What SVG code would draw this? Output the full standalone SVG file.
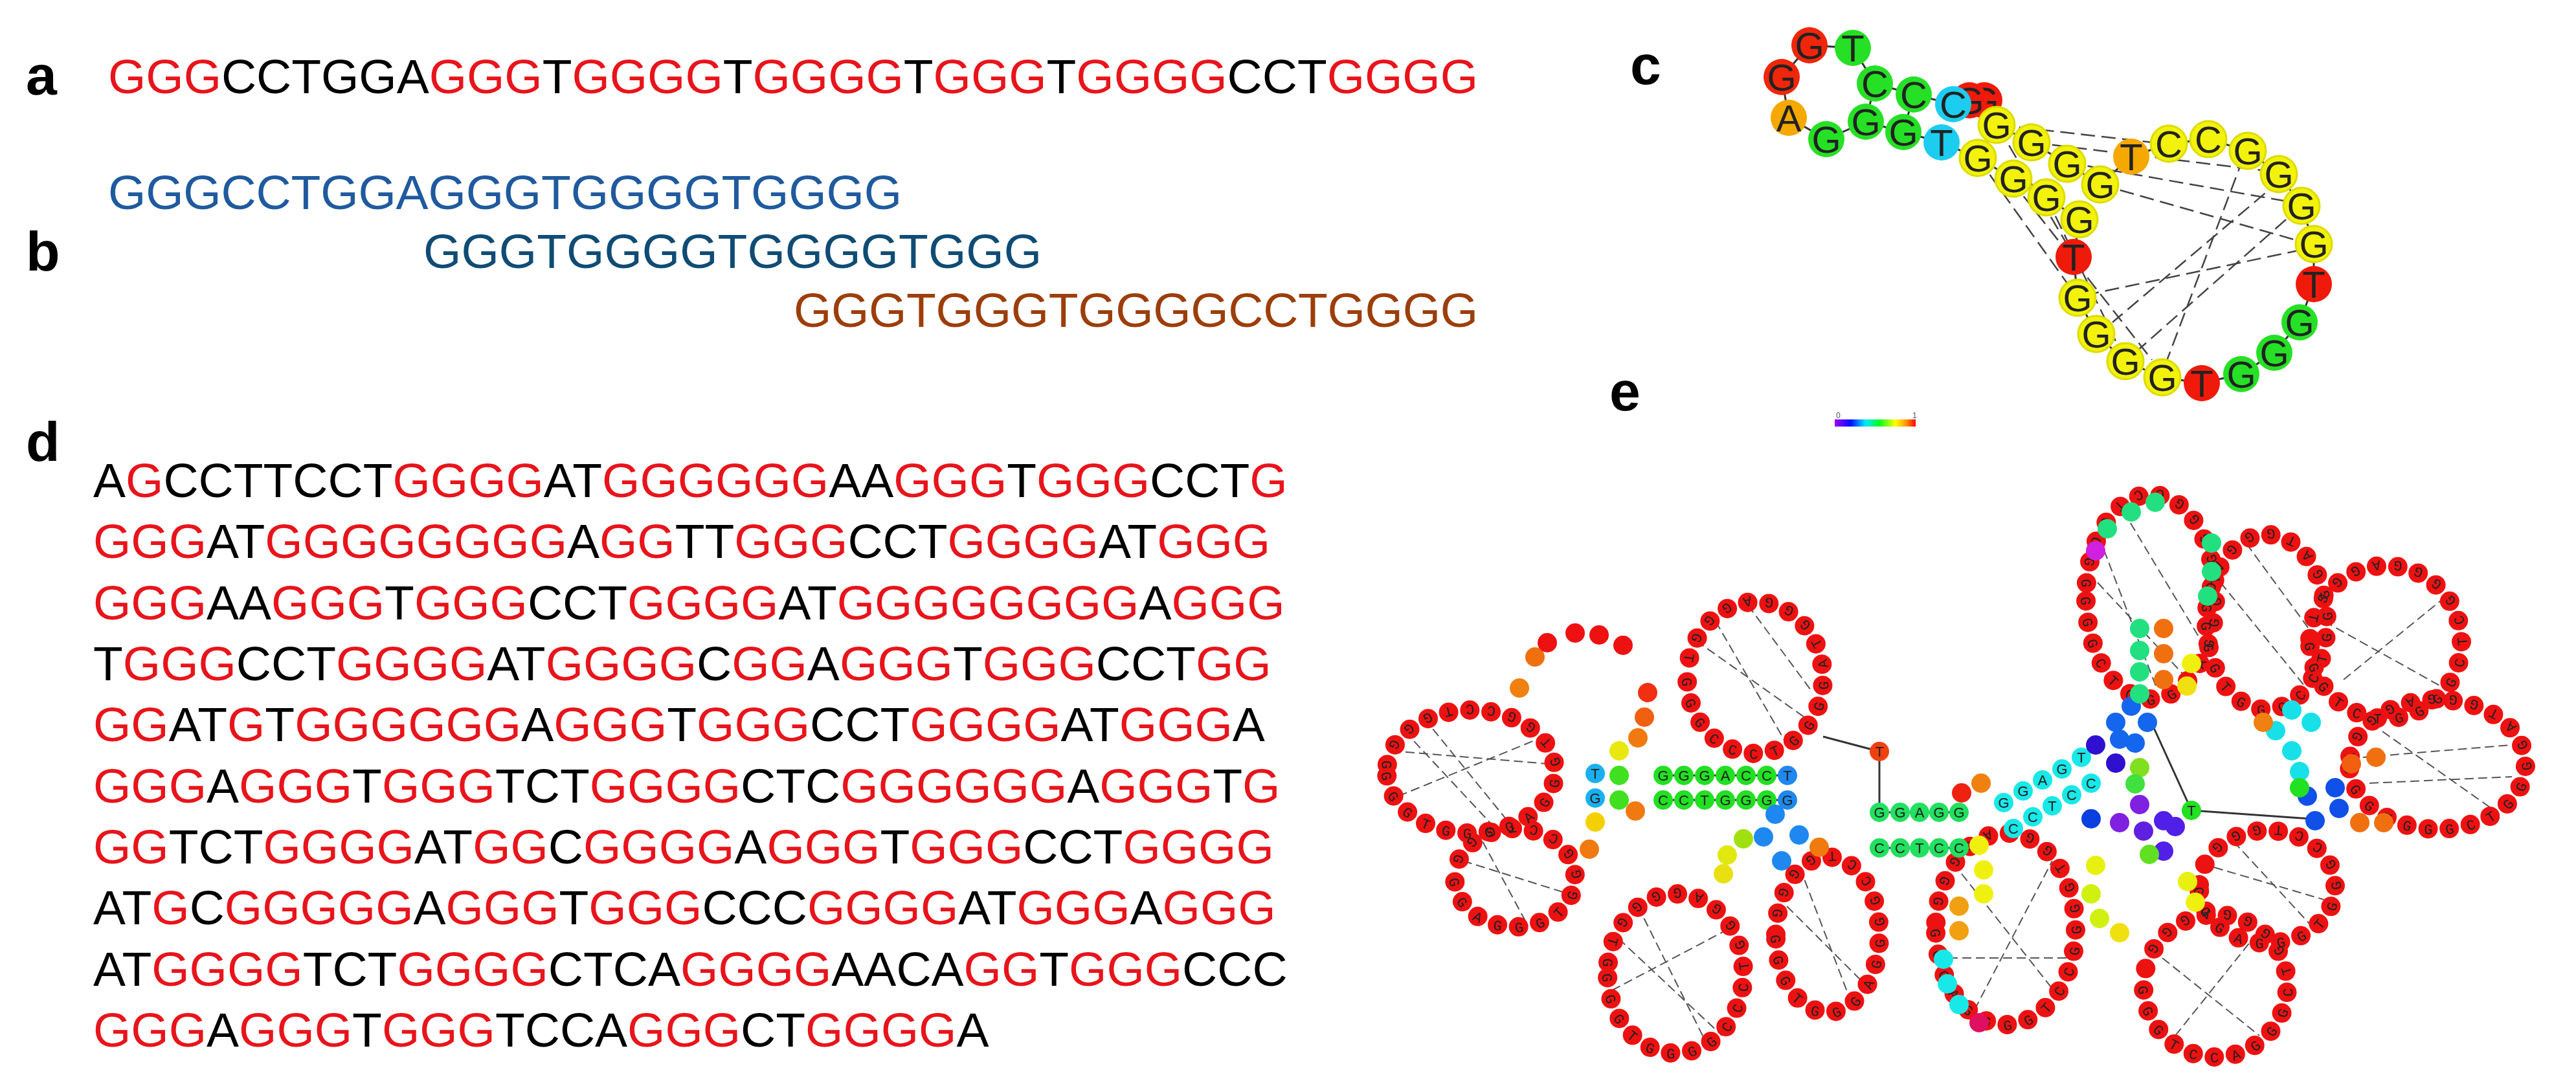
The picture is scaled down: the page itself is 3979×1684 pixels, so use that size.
<svg xmlns="http://www.w3.org/2000/svg" xmlns:xlink="http://www.w3.org/1999/xlink" width="3979" height="1684" viewBox="0 0 3979 1684">
<style>
.lab{font-family:"Liberation Sans",Arial,sans-serif;font-weight:bold;font-size:86px;fill:#000}
.seq{font-family:"Liberation Sans",Arial,sans-serif;font-size:75px;fill:#000}
.r{fill:#e8141b}
.cn{font-family:"Liberation Sans",Arial,sans-serif;font-size:58px;fill:#222;text-anchor:middle}
.bb{fill:none;stroke:#333;stroke-width:3}
.dash{stroke:#444;stroke-width:2.5;stroke-dasharray:22 10;fill:none}
.dash2{stroke:#555;stroke-width:2;stroke-dasharray:14 7;fill:none}
.dots{fill:none;stroke:#ee1111;stroke-width:30;stroke-linecap:round;stroke-dasharray:0 33;stroke-dashoffset:-6.6}
.le{font-family:"Liberation Mono",monospace;font-size:22px;letter-spacing:19.8px;fill:#222}
.n{stroke:none}
.et{font-family:"Liberation Sans",Arial,sans-serif;font-size:22px;fill:#222;text-anchor:middle}
</style>
<defs>
<linearGradient id="cb" x1="0" x2="1" y1="0" y2="0">
<stop offset="0" stop-color="#a000ff"/><stop offset="0.2" stop-color="#0010ff"/><stop offset="0.38" stop-color="#00e8ff"/><stop offset="0.55" stop-color="#00ff20"/><stop offset="0.75" stop-color="#ffff00"/><stop offset="0.88" stop-color="#ff9900"/><stop offset="1" stop-color="#ff0000"/>
</linearGradient>
<path id="L1" d="M2142 1192 a130 95 0 1 0 260 0 a130 95 0 1 0 -260 0"/>
<path id="L2" d="M2247 1356 a93 76 0 1 0 186 0 a93 76 0 1 0 -186 0"/>
<path id="L3" d="M2606 1047 a105 117 0 1 0 210 0 a105 117 0 1 0 -210 0"/>
<path id="L4" d="M2483 1504 a105 123 0 1 0 210 0 a105 123 0 1 0 -210 0"/>
<path id="L5" d="M2743 1444 a80 120 0 1 0 160 0 a80 120 0 1 0 -160 0"/>
<path id="L6" d="M2990 1435 a108 148 0 1 0 216 0 a108 148 0 1 0 -216 0"/>
<path id="L7" d="M3222 922 a100 158 0 1 0 200 0 a100 158 0 1 0 -200 0"/>
<path id="L8" d="M3408 961 a93 135 0 1 0 186 0 a93 135 0 1 0 -186 0"/>
<path id="L9" d="M3568 992 a117 118 0 1 0 234 0 a117 118 0 1 0 -234 0"/>
<path id="L10" d="M3629 1181 a136 100 0 1 0 272 0 a136 100 0 1 0 -272 0"/>
<path id="L11" d="M3311 1523 a111 110 0 1 0 222 0 a111 110 0 1 0 -222 0"/>
<path id="L12" d="M3397 1370 a105 87 0 1 0 210 0 a105 87 0 1 0 -210 0"/>
</defs>

<!-- panel labels -->
<g id="labels">
<text class="lab" x="40" y="146">a</text>
<text class="lab" x="40" y="418">b</text>
<text class="lab" x="2518" y="130">c</text>
<text class="lab" x="40" y="712">d</text>
<text class="lab" x="2486" y="634">e</text>
</g>

<!-- panel a -->
<g id="panel-a">
<text class="seq" x="167" y="144" textLength="2116"><tspan class="r">GGG</tspan>CCTGGA<tspan class="r">GGG</tspan>T<tspan class="r">GGGG</tspan>T<tspan class="r">GGGG</tspan>T<tspan class="r">GGG</tspan>T<tspan class="r">GGGG</tspan>CCT<tspan class="r">GGGG</tspan></text>
</g>

<!-- panel b -->
<g id="panel-b">
<text class="seq" x="167" y="323" textLength="1226" style="fill:#1f5a9e">GGGCCTGGAGGGTGGGGTGGGG</text>
<text class="seq" x="654" y="414" textLength="955" style="fill:#0f4c75">GGGTGGGGTGGGGTGGG</text>
<text class="seq" x="1226" y="505" textLength="1057" style="fill:#9c3e0a">GGGTGGGTGGGGCCTGGGG</text>
</g>

<!-- panel d -->
<g id="panel-d" class="seq">
<text x="144" y="768">A<tspan class="r">G</tspan>CCTTCCT<tspan class="r">GGGG</tspan>AT<tspan class="r">GGGGGG</tspan>AA<tspan class="r">GGG</tspan>T<tspan class="r">GGG</tspan>CCT<tspan class="r">G</tspan></text>
<text x="144" y="862"><tspan class="r">GGG</tspan>AT<tspan class="r">GGGGGGGG</tspan>A<tspan class="r">GG</tspan>TT<tspan class="r">GGG</tspan>CCT<tspan class="r">GGGG</tspan>AT<tspan class="r">GGG</tspan></text>
<text x="144" y="957"><tspan class="r">GGG</tspan>AA<tspan class="r">GGG</tspan>T<tspan class="r">GGG</tspan>CCT<tspan class="r">GGGG</tspan>AT<tspan class="r">GGGGGGGG</tspan>A<tspan class="r">GGG</tspan></text>
<text x="144" y="1051">T<tspan class="r">GGG</tspan>CCT<tspan class="r">GGGG</tspan>AT<tspan class="r">GGGG</tspan>C<tspan class="r">GG</tspan>A<tspan class="r">GGG</tspan>T<tspan class="r">GGG</tspan>CCT<tspan class="r">GG</tspan></text>
<text x="144" y="1145"><tspan class="r">GG</tspan>AT<tspan class="r">G</tspan>T<tspan class="r">GGGGGG</tspan>A<tspan class="r">GGG</tspan>T<tspan class="r">GGG</tspan>CCT<tspan class="r">GGGG</tspan>AT<tspan class="r">GGG</tspan>A</text>
<text x="144" y="1240"><tspan class="r">GGG</tspan>A<tspan class="r">GGG</tspan>T<tspan class="r">GGG</tspan>TCT<tspan class="r">GGGG</tspan>CTC<tspan class="r">GGGGGG</tspan>A<tspan class="r">GGG</tspan>T<tspan class="r">G</tspan></text>
<text x="144" y="1334"><tspan class="r">GG</tspan>TCT<tspan class="r">GGGG</tspan>AT<tspan class="r">GG</tspan>C<tspan class="r">GGGG</tspan>A<tspan class="r">GGG</tspan>T<tspan class="r">GGG</tspan>CCT<tspan class="r">GGGG</tspan></text>
<text x="144" y="1428">AT<tspan class="r">G</tspan>C<tspan class="r">GGGGG</tspan>A<tspan class="r">GGG</tspan>T<tspan class="r">GGG</tspan>CCC<tspan class="r">GGGG</tspan>AT<tspan class="r">GGG</tspan>A<tspan class="r">GGG</tspan></text>
<text x="144" y="1523">AT<tspan class="r">GGGG</tspan>TCT<tspan class="r">GGGG</tspan>CTCA<tspan class="r">GGGG</tspan>AACA<tspan class="r">GG</tspan>T<tspan class="r">GGG</tspan>CCC</text>
<text x="144" y="1617"><tspan class="r">GGG</tspan>A<tspan class="r">GGG</tspan>T<tspan class="r">GGG</tspan>TCCA<tspan class="r">GGG</tspan>CT<tspan class="r">GGGG</tspan>A</text>
</g>

<!-- panel c connectors -->
<g id="c-connectors">
<polyline class="bb" points="2795,70 2862,74 2896,129 2956,146 3017,161 3042,155 3065,155 3084,193 3138,220 3193,253 3244,285 3292,242 3350,222 3411,215 3472,233 3520,269 3555,318 3574,377 3574,439 3552,498 3513,545 3462,578 3401,592 3340,583 3283,558 3238,516 3209,460 3203,397 3212,339 3161,305 3110,276 3055,244 2999,220 2940,204 2882,188 2821,215 2763,182 2752,119 2795,70"/>
<line class="bb" x1="2896" y1="129" x2="2882" y2="188"/>
<line class="bb" x1="2956" y1="146" x2="2940" y2="204"/>
<line class="dash" x1="3087" y1="193" x2="3324" y2="220"/>
<line class="dash" x1="3138" y1="220" x2="3510" y2="265"/>
<line class="dash" x1="3193" y1="251" x2="3549" y2="314"/>
<line class="dash" x1="3244" y1="285" x2="3568" y2="377"/>
<line class="dash" x1="3555" y1="386" x2="3235" y2="453"/>
<line class="dash" x1="3523" y1="278" x2="3263" y2="498"/>
<line class="dash" x1="3465" y1="244" x2="3344" y2="565"/>
<line class="dash" x1="3087" y1="197" x2="3203" y2="395"/>
<line class="dash" x1="3106" y1="278" x2="3324" y2="556"/>
<line class="dash" x1="3055" y1="244" x2="3209" y2="460"/>
<line class="dash" x1="3161" y1="305" x2="3283" y2="558"/>
<line class="dash" x1="3555" y1="318" x2="3283" y2="558"/>
</g>

<!-- panel c nodes -->
<g id="c-nodes">
<g id="c1"><circle cx="2795" cy="70" r="28" fill="#f0260a"/><text class="cn" x="2795" y="91">G</text></g>
<g id="c2"><circle cx="2862" cy="74" r="28" fill="#26e026"/><text class="cn" x="2862" y="95">T</text></g>
<g id="c3"><circle cx="2752" cy="119" r="28" fill="#f0260a"/><text class="cn" x="2752" y="140">G</text></g>
<g id="c4"><circle cx="2763" cy="182" r="28" fill="#f5a800"/><text class="cn" x="2763" y="203">A</text></g>
<g id="c5"><circle cx="2821" cy="215" r="28" fill="#26e026"/><text class="cn" x="2821" y="236">G</text></g>
<g id="c6"><circle cx="2882" cy="188" r="28" fill="#26e026"/><text class="cn" x="2882" y="209">G</text></g>
<g id="c7"><circle cx="2896" cy="129" r="28" fill="#26e026"/><text class="cn" x="2896" y="150">C</text></g>
<g id="c8"><circle cx="2956" cy="146" r="28" fill="#26e026"/><text class="cn" x="2956" y="167">C</text></g>
<g id="c9"><circle cx="2940" cy="204" r="28" fill="#26e026"/><text class="cn" x="2940" y="225">G</text></g>
<g id="c10"><circle cx="2999" cy="220" r="28" fill="#1ccdf0"/><text class="cn" x="2999" y="241">T</text></g>
<g id="c13"><circle cx="3065" cy="155" r="28" fill="#f01a0a"/><text class="cn" x="3065" y="176">G</text></g>
<g id="c12"><circle cx="3042" cy="155" r="28" fill="#f01a0a"/><text class="cn" x="3042" y="176">G</text></g>
<g id="c11"><circle cx="3017" cy="161" r="28" fill="#1ccdf0"/><text class="cn" x="3017" y="182">C</text></g>
<g id="c14"><circle cx="3084" cy="193" r="28" fill="#f2f20a" stroke="#dcdc00" stroke-width="3"/><text class="cn" x="3084" y="214">G</text></g>
<g id="c15"><circle cx="3138" cy="220" r="28" fill="#f2f20a" stroke="#dcdc00" stroke-width="3"/><text class="cn" x="3138" y="241">G</text></g>
<g id="c16"><circle cx="3193" cy="253" r="28" fill="#f2f20a" stroke="#dcdc00" stroke-width="3"/><text class="cn" x="3193" y="274">G</text></g>
<g id="c17"><circle cx="3244" cy="285" r="28" fill="#f2f20a" stroke="#dcdc00" stroke-width="3"/><text class="cn" x="3244" y="306">G</text></g>
<g id="c18"><circle cx="3292" cy="242" r="28" fill="#f5a800"/><text class="cn" x="3292" y="263">T</text></g>
<g id="c19"><circle cx="3350" cy="222" r="28" fill="#f2f20a" stroke="#dcdc00" stroke-width="3"/><text class="cn" x="3350" y="243">C</text></g>
<g id="c20"><circle cx="3411" cy="215" r="28" fill="#f2f20a" stroke="#dcdc00" stroke-width="3"/><text class="cn" x="3411" y="236">C</text></g>
<g id="c21"><circle cx="3472" cy="233" r="28" fill="#f2f20a" stroke="#dcdc00" stroke-width="3"/><text class="cn" x="3472" y="254">G</text></g>
<g id="c22"><circle cx="3520" cy="269" r="28" fill="#f2f20a" stroke="#dcdc00" stroke-width="3"/><text class="cn" x="3520" y="290">G</text></g>
<g id="c23"><circle cx="3555" cy="318" r="28" fill="#f2f20a" stroke="#dcdc00" stroke-width="3"/><text class="cn" x="3555" y="339">G</text></g>
<g id="c24"><circle cx="3574" cy="377" r="28" fill="#f2f20a" stroke="#dcdc00" stroke-width="3"/><text class="cn" x="3574" y="398">G</text></g>
<g id="c25"><circle cx="3574" cy="439" r="28" fill="#f01a0a"/><text class="cn" x="3574" y="460">T</text></g>
<g id="c26"><circle cx="3552" cy="498" r="28" fill="#26e026"/><text class="cn" x="3552" y="519">G</text></g>
<g id="c27"><circle cx="3513" cy="545" r="28" fill="#26e026"/><text class="cn" x="3513" y="566">G</text></g>
<g id="c28"><circle cx="3462" cy="578" r="28" fill="#26e026"/><text class="cn" x="3462" y="599">G</text></g>
<g id="c29"><circle cx="3401" cy="592" r="28" fill="#f01a0a"/><text class="cn" x="3401" y="613">T</text></g>
<g id="c30"><circle cx="3340" cy="583" r="28" fill="#f2f20a" stroke="#dcdc00" stroke-width="3"/><text class="cn" x="3340" y="604">G</text></g>
<g id="c31"><circle cx="3283" cy="558" r="28" fill="#f2f20a" stroke="#dcdc00" stroke-width="3"/><text class="cn" x="3283" y="579">G</text></g>
<g id="c32"><circle cx="3238" cy="516" r="28" fill="#f2f20a" stroke="#dcdc00" stroke-width="3"/><text class="cn" x="3238" y="537">G</text></g>
<g id="c33"><circle cx="3209" cy="460" r="28" fill="#f2f20a" stroke="#dcdc00" stroke-width="3"/><text class="cn" x="3209" y="481">G</text></g>
<g id="c34"><circle cx="3203" cy="397" r="28" fill="#f01a0a"/><text class="cn" x="3203" y="418">T</text></g>
<g id="c35"><circle cx="3212" cy="339" r="28" fill="#f2f20a" stroke="#dcdc00" stroke-width="3"/><text class="cn" x="3212" y="360">G</text></g>
<g id="c36"><circle cx="3161" cy="305" r="28" fill="#f2f20a" stroke="#dcdc00" stroke-width="3"/><text class="cn" x="3161" y="326">G</text></g>
<g id="c37"><circle cx="3110" cy="276" r="28" fill="#f2f20a" stroke="#dcdc00" stroke-width="3"/><text class="cn" x="3110" y="297">G</text></g>
<g id="c38"><circle cx="3055" cy="244" r="28" fill="#f2f20a" stroke="#dcdc00" stroke-width="3"/><text class="cn" x="3055" y="265">G</text></g>
</g>

<!-- colour bar -->
<g id="colorbar">
<rect x="2834" y="648" width="125" height="11" fill="url(#cb)"/>
<text x="2836" y="646" style="font-family:'Liberation Sans',sans-serif;font-size:12px;fill:#555">0</text>
<text x="2954" y="646" style="font-family:'Liberation Sans',sans-serif;font-size:12px;fill:#555">1</text>
</g>

<!-- panel e connectors -->
<g id="e-connectors">
<g class="dash2">
<line x1="2150" y1="1160" x2="2390" y2="1180"/><line x1="2160" y1="1230" x2="2380" y2="1140"/><line x1="2200" y1="1110" x2="2330" y2="1270"/><line x1="2170" y1="1130" x2="2310" y2="1280"/>
<line x1="2260" y1="1330" x2="2420" y2="1380"/><line x1="2290" y1="1300" x2="2360" y2="1430"/>
<line x1="2620" y1="990" x2="2790" y2="1110"/><line x1="2650" y1="960" x2="2760" y2="1150"/><line x1="2700" y1="935" x2="2800" y2="1070"/>
<line x1="2500" y1="1450" x2="2660" y2="1600"/><line x1="2530" y1="1400" x2="2640" y2="1620"/><line x1="2490" y1="1530" x2="2680" y2="1430"/>
<line x1="2760" y1="1400" x2="2880" y2="1520"/><line x1="2780" y1="1340" x2="2860" y2="1550"/>
<line x1="3010" y1="1480" x2="3200" y2="1480"/><line x1="3030" y1="1350" x2="3180" y2="1540"/><line x1="3050" y1="1560" x2="3170" y2="1330"/>
<line x1="3250" y1="850" x2="3330" y2="1060"/><line x1="3280" y1="790" x2="3400" y2="990"/><line x1="3240" y1="900" x2="3380" y2="1050"/>
<line x1="3430" y1="900" x2="3560" y2="1060"/><line x1="3470" y1="840" x2="3580" y2="990"/>
<line x1="3590" y1="960" x2="3770" y2="1060"/><line x1="3620" y1="1050" x2="3780" y2="920"/>
<line x1="3650" y1="1170" x2="3890" y2="1150"/><line x1="3660" y1="1210" x2="3880" y2="1200"/><line x1="3680" y1="1130" x2="3850" y2="1250"/>
<line x1="3340" y1="1480" x2="3490" y2="1600"/><line x1="3360" y1="1600" x2="3480" y2="1450"/>
<line x1="3420" y1="1340" x2="3590" y2="1390"/><line x1="3450" y1="1300" x2="3570" y2="1430"/>
</g>
<g class="bb">
<line x1="2816" y1="1138" x2="2903" y2="1161"/><line x1="2903" y1="1161" x2="2903" y2="1255"/>
<line x1="3323" y1="1116" x2="3385" y2="1252"/><line x1="3385" y1="1252" x2="3570" y2="1265"/>
<line x1="2569" y1="1198" x2="2761" y2="1198"/><line x1="2569" y1="1236" x2="2761" y2="1236"/>
<line x1="2903" y1="1255" x2="3026" y2="1255"/><line x1="2903" y1="1310" x2="3026" y2="1310"/>
</g>
</g>

<!-- panel e nodes -->
<g id="e-nodes">
<g id="e-loops">
<use xlink:href="#L1" class="dots"/><use xlink:href="#L2" class="dots"/><use xlink:href="#L3" class="dots"/><use xlink:href="#L4" class="dots"/>
<use xlink:href="#L5" class="dots"/><use xlink:href="#L6" class="dots"/><use xlink:href="#L7" class="dots"/><use xlink:href="#L8" class="dots"/>
<use xlink:href="#L9" class="dots"/><use xlink:href="#L10" class="dots"/><use xlink:href="#L11" class="dots"/><use xlink:href="#L12" class="dots"/>
<text class="le" dy="8"><textPath xlink:href="#L1">GGGTGGGGAGGGTGGCCTGGGGATGGGGG</textPath></text>
<text class="le" dy="8"><textPath xlink:href="#L2">GGAGGGTGGGCCTGGGGATGG</textPath></text>
<text class="le" dy="8"><textPath xlink:href="#L3">GGGCCCTGGGGATGGGAGGGTGGG</textPath></text>
<text class="le" dy="8"><textPath xlink:href="#L4">GGGTGGGGCCCTGGGAGGGGTGGGAG</textPath></text>
<text class="le" dy="8"><textPath xlink:href="#L5">GGGTGGGAGGGGCCTGGGGATG</textPath></text>
<text class="le" dy="8"><textPath xlink:href="#L6">GGGAGGGGTCCGGGGTGGGAGGGGCTG</textPath></text>
<text class="le" dy="8"><textPath xlink:href="#L7">GGGCTGGGGAGGGTGGGGCCTGGGGAGGG</textPath></text>
<text class="le" dy="8"><textPath xlink:href="#L8">GGGTGGGCCTGGGGATGGGAGGGG</textPath></text>
<text class="le" dy="8"><textPath xlink:href="#L9">GGGTCTGGGGCTCGGGGAGGGTG</textPath></text>
<text class="le" dy="8"><textPath xlink:href="#L10">GGGTGGGCTGGGGATGGGAGGGTGGG</textPath></text>
<text class="le" dy="8"><textPath xlink:href="#L11">GGGTCCAGGGCTGGGGAGGG</textPath></text>
<text class="le" dy="8"><textPath xlink:href="#L12">GGGAGGGTGGGCCTGGG</textPath></text>
</g>
<g id="e-stems" class="n">
<!-- left stem -->
<circle cx="2569" cy="1198" r="15" fill="#22e022"/><circle cx="2601" cy="1198" r="15" fill="#22e022"/><circle cx="2633" cy="1198" r="15" fill="#22e022"/><circle cx="2665" cy="1198" r="15" fill="#22e022"/><circle cx="2697" cy="1198" r="15" fill="#22e022"/><circle cx="2729" cy="1198" r="15" fill="#22e022"/><circle cx="2761" cy="1198" r="15" fill="#1e88f0"/>
<circle cx="2569" cy="1236" r="15" fill="#22e022"/><circle cx="2601" cy="1236" r="15" fill="#22e022"/><circle cx="2633" cy="1236" r="15" fill="#22e022"/><circle cx="2665" cy="1236" r="15" fill="#22e022"/><circle cx="2697" cy="1236" r="15" fill="#22e022"/><circle cx="2729" cy="1236" r="15" fill="#22e022"/><circle cx="2761" cy="1236" r="15" fill="#1e88f0"/>
<circle cx="2464" cy="1195" r="15" fill="#1ab0f0"/><circle cx="2464" cy="1233" r="15" fill="#1ab0f0"/>
<circle cx="2501" cy="1198" r="15" fill="#40e020"/><circle cx="2501" cy="1236" r="15" fill="#40e020"/>
<circle cx="2501" cy="1160" r="15" fill="#e8e810"/><circle cx="2530" cy="1140" r="15" fill="#f07a10"/><circle cx="2540" cy="1108" r="15" fill="#f06010"/><circle cx="2545" cy="1070" r="15" fill="#f03010"/>
<circle cx="2526" cy="1253" r="15" fill="#f07a10"/><circle cx="2464" cy="1270" r="15" fill="#f5d000"/><circle cx="2455" cy="1312" r="15" fill="#f07a10"/>
<!-- upper-left tail -->
<circle cx="2347" cy="1063" r="15" fill="#f08010"/><circle cx="2371" cy="1015" r="15" fill="#f07010"/><circle cx="2390" cy="993" r="15" fill="#ee1111"/><circle cx="2433" cy="978" r="15" fill="#ee1111"/><circle cx="2470" cy="981" r="15" fill="#ee1111"/><circle cx="2507" cy="997" r="15" fill="#ee1111"/>
<!-- lower-left blue cluster -->
<circle cx="2724" cy="1293" r="15" fill="#1e88f0"/><circle cx="2779" cy="1290" r="15" fill="#1e88f0"/><circle cx="2752" cy="1330" r="15" fill="#1e88f0"/><circle cx="2742" cy="1258" r="15" fill="#1e88f0"/>
<circle cx="2810" cy="1309" r="15" fill="#f07a10"/><circle cx="2693" cy="1296" r="15" fill="#a0e010"/><circle cx="2668" cy="1321" r="15" fill="#e0e810"/><circle cx="2662" cy="1350" r="15" fill="#e8e010"/>
<!-- T node -->
<circle cx="2903" cy="1161" r="15" fill="#f04010"/>
<!-- center stem -->
<circle cx="2903" cy="1255" r="15" fill="#22e060"/><circle cx="2935" cy="1255" r="15" fill="#22e060"/><circle cx="2965" cy="1255" r="15" fill="#22e060"/><circle cx="2995" cy="1255" r="15" fill="#22e060"/><circle cx="3026" cy="1255" r="15" fill="#22e060"/>
<circle cx="2903" cy="1310" r="15" fill="#22e060"/><circle cx="2935" cy="1310" r="15" fill="#22e060"/><circle cx="2965" cy="1310" r="15" fill="#22e060"/><circle cx="2995" cy="1310" r="15" fill="#22e060"/><circle cx="3026" cy="1310" r="15" fill="#22e060"/>
<circle cx="3030" cy="1225" r="15" fill="#ee2211"/><circle cx="3060" cy="1210" r="15" fill="#f08010"/>
<!-- cyan stem -->
<circle cx="3095" cy="1240" r="15" fill="#18e8e8"/><circle cx="3125" cy="1222" r="15" fill="#18e8e8"/><circle cx="3155" cy="1205" r="15" fill="#18e8e8"/><circle cx="3185" cy="1188" r="15" fill="#18e8e8"/><circle cx="3215" cy="1170" r="15" fill="#18e8e8"/>
<circle cx="3110" cy="1280" r="15" fill="#18e8e8"/><circle cx="3140" cy="1262" r="15" fill="#18e8e8"/><circle cx="3170" cy="1245" r="15" fill="#18e8e8"/><circle cx="3200" cy="1228" r="15" fill="#18e8e8"/><circle cx="3230" cy="1210" r="15" fill="#18e8e8"/>
<!-- bottom-center left side colours -->
<circle cx="3002" cy="1482" r="15" fill="#18e8e8"/><circle cx="3008" cy="1520" r="15" fill="#18e8e8"/><circle cx="3026" cy="1552" r="15" fill="#18e8e8"/><circle cx="3057" cy="1580" r="15" fill="#e01060"/>
<circle cx="3026" cy="1400" r="15" fill="#f0a010"/><circle cx="3026" cy="1438" r="15" fill="#f0a010"/>
<circle cx="3057" cy="1306" r="15" fill="#f0f010"/><circle cx="3064" cy="1344" r="15" fill="#f0f010"/><circle cx="3064" cy="1381" r="15" fill="#f0f010"/>
<!-- purple cluster -->
<circle cx="3237" cy="1151" r="15" fill="#3010d0"/><circle cx="3268" cy="1179" r="15" fill="#3010d0"/><circle cx="3305" cy="1186" r="15" fill="#80e020"/><circle cx="3298" cy="1211" r="15" fill="#40e040"/><circle cx="3305" cy="1243" r="15" fill="#8020e0"/>
<circle cx="3274" cy="1271" r="15" fill="#8020e0"/><circle cx="3311" cy="1284" r="15" fill="#6020e0"/><circle cx="3342" cy="1268" r="15" fill="#5020e8"/><circle cx="3360" cy="1277" r="15" fill="#5020e8"/><circle cx="3342" cy="1315" r="15" fill="#5020e8"/><circle cx="3230" cy="1265" r="15" fill="#0a40e0"/>
<circle cx="3320" cy="1320" r="15" fill="#60e020"/>
<circle cx="3292" cy="1091" r="15" fill="#1466ee"/><circle cx="3268" cy="1116" r="15" fill="#1466ee"/><circle cx="3317" cy="1116" r="15" fill="#1466ee"/><circle cx="3274" cy="1142" r="15" fill="#1466ee"/><circle cx="3298" cy="1148" r="15" fill="#1466ee"/>
<circle cx="3385" cy="1252" r="15" fill="#22e022"/>
<!-- upper cluster overlays -->
<circle cx="3255" cy="817" r="15" fill="#22e080"/><circle cx="3292" cy="791" r="15" fill="#22e080"/><circle cx="3329" cy="776" r="15" fill="#22e080"/><circle cx="3416" cy="839" r="15" fill="#22e080"/><circle cx="3416" cy="883" r="15" fill="#22e080"/><circle cx="3410" cy="921" r="15" fill="#22e080"/><circle cx="3237" cy="851" r="15" fill="#d020e0"/>
<circle cx="3305" cy="971" r="15" fill="#22e080"/><circle cx="3305" cy="1005" r="15" fill="#22e080"/><circle cx="3305" cy="1038" r="15" fill="#22e080"/><circle cx="3305" cy="1072" r="15" fill="#22e080"/>
<circle cx="3342" cy="971" r="15" fill="#f07010"/><circle cx="3342" cy="1010" r="15" fill="#f07010"/><circle cx="3342" cy="1050" r="15" fill="#f07010"/><circle cx="3385" cy="1025" r="15" fill="#f0f010"/><circle cx="3378" cy="1060" r="15" fill="#f0e010"/>
<!-- right blue & cyan clusters -->
<circle cx="3564" cy="1230" r="15" fill="#1050e8"/><circle cx="3607" cy="1217" r="15" fill="#1050e8"/><circle cx="3576" cy="1268" r="15" fill="#1050e8"/><circle cx="3613" cy="1249" r="15" fill="#1050e8"/>
<circle cx="3645" cy="1271" r="15" fill="#f07010"/><circle cx="3682" cy="1271" r="15" fill="#f07010"/><circle cx="3632" cy="1180" r="15" fill="#f06010"/><circle cx="3670" cy="1170" r="15" fill="#f07010"/>
<circle cx="3515" cy="1129" r="15" fill="#18e0e8"/><circle cx="3540" cy="1097" r="15" fill="#18e0e8"/><circle cx="3570" cy="1116" r="15" fill="#18e0e8"/><circle cx="3540" cy="1160" r="15" fill="#18e0e8"/><circle cx="3552" cy="1192" r="15" fill="#18e0e8"/>
<circle cx="3552" cy="1217" r="15" fill="#22e022"/><circle cx="3496" cy="1116" r="15" fill="#f08010"/>
<!-- yellow near bottom-right -->
<circle cx="3237" cy="1337" r="15" fill="#e8f010"/><circle cx="3230" cy="1381" r="15" fill="#d0f010"/><circle cx="3243" cy="1419" r="15" fill="#d0f010"/><circle cx="3274" cy="1441" r="15" fill="#f0e010"/>
<circle cx="3379" cy="1362" r="15" fill="#e8f010"/><circle cx="3391" cy="1394" r="15" fill="#f0f010"/>
</g>
<g id="e-stem-labels" class="et">
<text x="2569" y="1206">G</text><text x="2601" y="1206">G</text><text x="2633" y="1206">G</text><text x="2665" y="1206">A</text><text x="2697" y="1206">C</text><text x="2729" y="1206">C</text><text x="2761" y="1206">T</text>
<text x="2569" y="1244">C</text><text x="2601" y="1244">C</text><text x="2633" y="1244">T</text><text x="2665" y="1244">G</text><text x="2697" y="1244">G</text><text x="2729" y="1244">G</text><text x="2761" y="1244">G</text>
<text x="2903" y="1263">G</text><text x="2935" y="1263">G</text><text x="2965" y="1263">A</text><text x="2995" y="1263">G</text><text x="3026" y="1263">G</text>
<text x="2903" y="1318">C</text><text x="2935" y="1318">C</text><text x="2965" y="1318">T</text><text x="2995" y="1318">C</text><text x="3026" y="1318">C</text>
<text x="3095" y="1248">G</text><text x="3125" y="1230">G</text><text x="3155" y="1213">A</text><text x="3185" y="1196">G</text><text x="3215" y="1178">T</text>
<text x="3110" y="1288">C</text><text x="3140" y="1270">C</text><text x="3170" y="1253">T</text><text x="3200" y="1236">C</text><text x="3230" y="1218">C</text>
<text x="2903" y="1169">T</text><text x="3385" y="1260">T</text><text x="2464" y="1203">T</text><text x="2464" y="1241">G</text>
</g>
</g>
</svg>
